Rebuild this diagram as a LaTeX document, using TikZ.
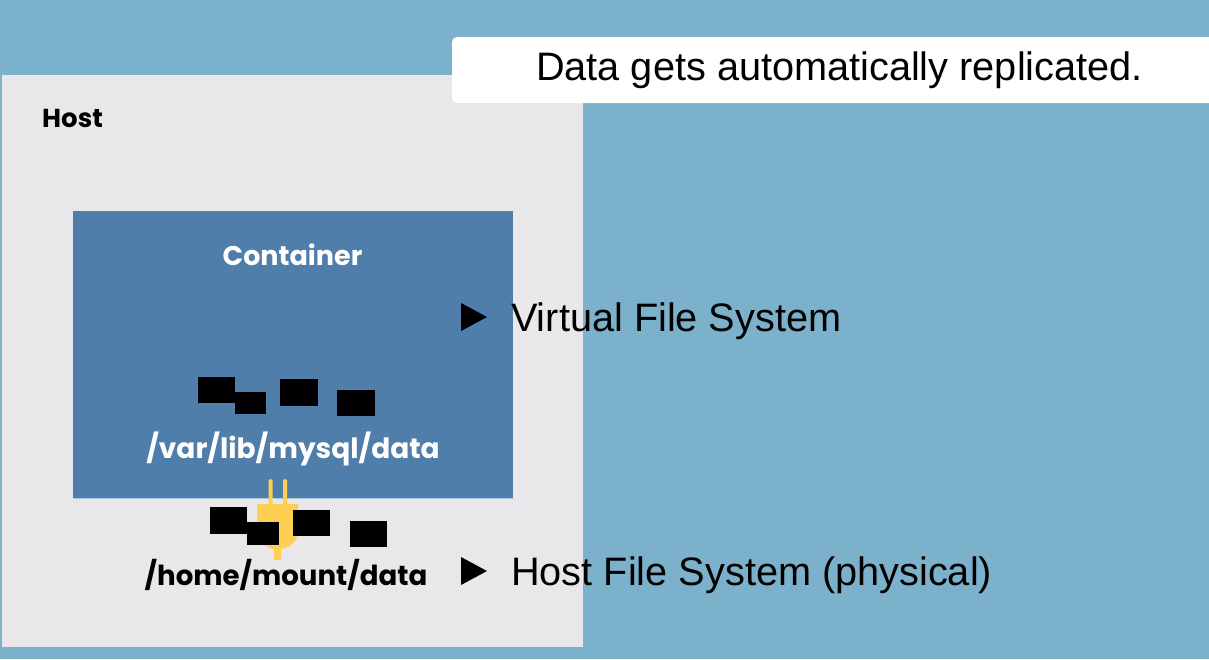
\documentclass[tikz,border=0pt]{standalone}
\usepackage{fontspec}
\setmainfont{Liberation Sans}
\newfontfamily\labelfont{Poppins}
\definecolor{bgblue}{HTML}{7BB1CA}
\definecolor{hostgrey}{HTML}{E9E7E9}
\definecolor{contblue}{HTML}{507EAA}
\definecolor{plugyellow}{HTML}{FDCF52}
\tikzset{
  lbl/.style={inner sep=0pt,font=\labelfont\bfseries\fontsize{28}{32}\selectfont},
  bodytxt/.style={inner sep=0pt,anchor=west,text=black,font=\fontsize{39.7}{46}\selectfont},
  mask/.style={fill=black,draw=none},
  tri/.style={fill=black,draw=none}
}
\begin{document}
\begin{tikzpicture}[x=1pt,y=-1pt]
\useasboundingbox (0,0) rectangle (1209,659);
\fill[bgblue] (0,0) rectangle (1209,659);
\fill[hostgrey] (2,75) rectangle (583,647);
\fill[contblue] (73,211) rectangle (513,498);
\draw[bgblue!70!white,line width=0.8pt] (73,498) -- (513,498);
% banner
\fill[white,rounded corners=5pt] (452,37) rectangle (1215,103);
\node[inner sep=0pt,text=black,font=\fontsize{39.7}{46}\selectfont] (banner) at (839.5,70) {Data gets automatically replicated.};
% labels
\node[lbl,text=black,anchor=west,font=\labelfont\bfseries\fontsize{26}{30}\selectfont] (host) at (42,118) {Host};
\node[lbl,text=white,font=\labelfont\bfseries\fontsize{27}{30}\selectfont] (container) at (292.5,255) {Container};
\node[lbl,text=white] (vpath) at (293,449) {/var/lib/mysql/data};
\node[lbl,text=black,font=\labelfont\bfseries\fontsize{27.6}{32}\selectfont] (hpath) at (286,575) {/home/mount/data};
% plug
\fill[plugyellow,rounded corners=1.5pt] (268.5,479) rectangle (272.5,506);
\fill[plugyellow,rounded corners=1.5pt] (283,479) rectangle (287,506);
\fill[plugyellow] (257,504) -- (298,504) -- (298,530) .. controls (298,541) and (290,548) .. (281,549) -- (281,560) -- (274,560) -- (274,549) .. controls (265,548) and (257,541) .. (257,530) -- cycle;
% masks
\fill[mask] (198,377) rectangle (235,403);
\fill[mask] (235,392) rectangle (266,414);
\fill[mask] (280,379) rectangle (318,406);
\fill[mask] (337,390) rectangle (375,416);
\fill[mask] (210,507) rectangle (247,534);
\fill[mask] (247,522) rectangle (279,545);
\fill[mask] (293,510) rectangle (330,536);
\fill[mask] (350,521) rectangle (387,547);
% bullets
\fill[tri] (461,303) -- (487,317) -- (461,331) -- cycle;
\fill[tri] (461,557) -- (487,571) -- (461,585) -- cycle;
\node[bodytxt] (vfs) at (511,321) {Virtual File System};
\node[bodytxt] (hfs) at (511,575) {Host File System (physical)};
\end{tikzpicture}
\end{document}
